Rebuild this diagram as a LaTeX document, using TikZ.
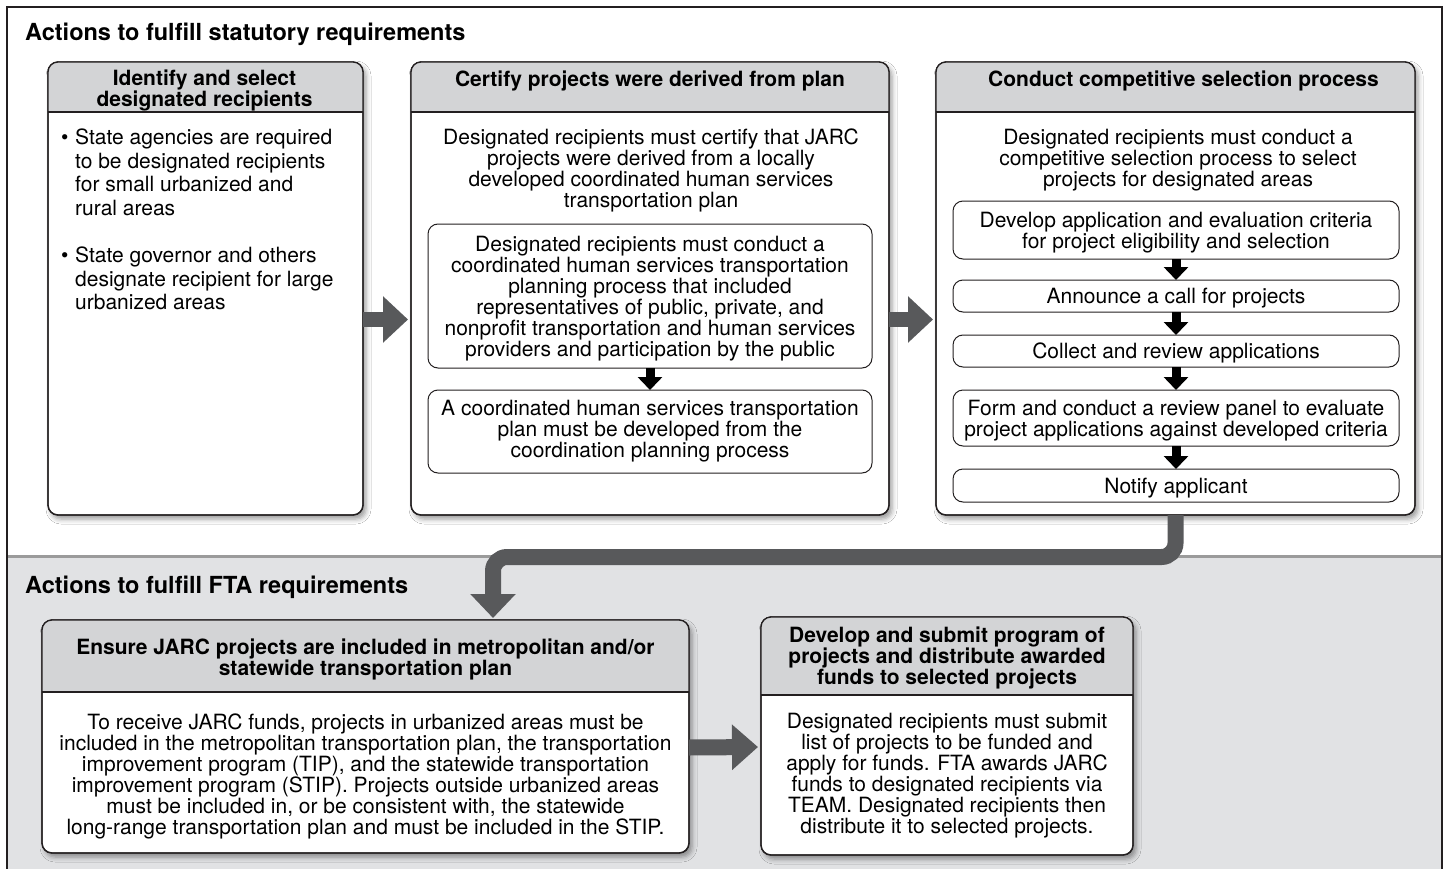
\documentclass[tikz,border=0pt]{standalone}
\usepackage{fontspec}
\setmainfont{TeX Gyre Heros}
\usetikzlibrary{arrows.meta,shadows.blur,calc}
\definecolor{framec}{HTML}{231F20}
\definecolor{hdrc}{HTML}{D3D4D6}
\definecolor{panelc}{HTML}{E1E2E4}
\definecolor{arrowc}{HTML}{58595B}
\definecolor{divc}{HTML}{9B9B9B}
\newcommand\bodyfont{\fontsize{21}{21}\selectfont}
\newcommand\hdrfont{\fontsize{21}{21}\selectfont\bfseries}
\newcommand\ttlfont{\fontsize{23.5}{24}\selectfont\bfseries}
\newcommand\topstrut{\rule{0pt}{20pt}}
\tikzset{
 x=1pt, y=-1pt,
 boxline/.style={draw=framec, line width=1.3pt},
 bigbox/.style={boxline, fill=white, rounded corners=10pt, anchor=north west, inner sep=0pt, outer sep=0pt,
   blur shadow={shadow xshift=3pt, shadow yshift=-4pt, shadow blur radius=5pt, shadow opacity=40}},
 subbox/.style={draw=framec, line width=1pt, fill=white, rounded corners=10pt, anchor=north west, inner sep=0pt, outer sep=0pt, align=center, font=\bodyfont},
 body/.style={align=center, inner sep=0pt, font=\bodyfont},
 hdr/.style={align=center, inner sep=0pt, font=\hdrfont},
 ttl/.style={anchor=base west, inner sep=0pt, font=\ttlfont},
 bigarrow/.style={draw=arrowc, line width=15pt, -{Triangle[width=45pt,length=25pt]}, arrowc},
 smallarrow/.style={draw=black, line width=9pt, -{Triangle[width=24pt,length=13pt]}},
}
\newcommand\hdrband[2]{%
  \fill[hdrc, rounded corners=10pt] ($(#1.north west)+(0,#2)$) -- (#1.north west) -- (#1.north east) -- ($(#1.north east)+(0,#2)$);
  \draw[boxline] ($(#1.north west)+(0,#2)$) -- ($(#1.north east)+(0,#2)$);
  \draw[boxline, rounded corners=10pt] (#1.north west) rectangle (#1.south east);}
\begin{document}
\begin{tikzpicture}
\useasboundingbox (0,0) rectangle (1447,869);
% panels
\fill[white] (0,0) rectangle (1447,869);
\fill[panelc] (7,556) rectangle (1442,880);
\draw[divc, line width=3pt] (7,556) -- (1442,556);
\draw[framec, line width=1.3pt] (7,880) -- (7,7) -- (1442,7) -- (1442,880);

\node[ttl] (t1) at (25,41) {Actions to fulfill statutory requirements};
\node[ttl] (t2) at (25,593) {Actions to fulfill FTA requirements};

% top boxes
\node[bigbox, minimum width=315pt, minimum height=453pt] (A) at (48,62) {};
\node[bigbox, minimum width=478pt, minimum height=453pt] (B) at (411,62) {};
\node[bigbox, minimum width=479pt, minimum height=453pt] (C) at (936,62) {};
\hdrband{A}{50}
\hdrband{B}{50}
\hdrband{C}{50}

\node[hdr] (Ah) at (204.5,90.6) {Identify and select\\designated recipients};
\node[hdr, anchor=base] (Bh) at (650,86.5) {Certify projects were derived from plan};
\node[hdr, anchor=base] (Ch) at (1183.5,86.5) {Conduct competitive selection process};

\node[body, align=left, anchor=west, font=\fontsize{21}{23.6}\selectfont] (At) at (61,219.5)
 {\makebox[14pt][l]{\textbullet}State agencies are required\\
  \hspace*{14pt}to be designated recipients\\
  \hspace*{14pt}for small urbanized and\\
  \hspace*{14pt}rural areas\\[23.6pt]
  \makebox[14pt][l]{\textbullet}State governor and others\\
  \hspace*{14pt}designate recipient for large\\
  \hspace*{14pt}urbanized areas};

\node[body] (Bt) at (651,170.5) {Designated recipients must certify that JARC\\projects were derived from a locally\\developed coordinated human services\\transportation plan};
\node[subbox, minimum width=444pt, minimum height=144pt] (B1) at (428,224) {\topstrut Designated recipients must conduct a\\coordinated human services transportation\\planning process that included\\representatives of public, private, and\\nonprofit transportation and human services\\providers and participation by the public};
\node[subbox, minimum width=444pt, minimum height=83pt] (B2) at (428,390) {A coordinated human services transportation\\plan must be developed from the\\coordination planning process};
\draw[smallarrow] (B1.south) -- (B2.north);

\node[body] (Ct) at (1178,160.5) {Designated recipients must conduct a\\competitive selection process to select\\projects for designated areas};
\node[subbox, minimum width=446pt, minimum height=58pt] (C1) at (953,201) {\topstrut Develop application and evaluation criteria\\for project eligibility and selection};
\node[subbox, minimum width=446pt, minimum height=32pt] (C2) at (953,280) {\topstrut Announce a call for projects};
\node[subbox, minimum width=446pt, minimum height=32pt] (C3) at (953,335) {\topstrut Collect and review applications};
\node[subbox, minimum width=446pt, minimum height=56pt] (C4) at (953,390) {\topstrut Form and conduct a review panel to evaluate\\project applications against developed criteria};
\node[subbox, minimum width=446pt, minimum height=33pt] (C5) at (953,469) {\topstrut Notify applicant};
\draw[smallarrow] (C1.south) -- (C2.north);
\draw[smallarrow] (C2.south) -- (C3.north);
\draw[smallarrow] (C3.south) -- (C4.north);
\draw[smallarrow] (C4.south) -- (C5.north);

\draw[bigarrow, shorten >=3pt] ([yshift=-31pt]A.east) -- ([yshift=-31pt]B.west);
\draw[bigarrow, shorten >=3pt] ([yshift=-31pt]B.east) -- ([yshift=-31pt]C.west);

% bottom boxes
\node[bigbox, minimum width=647pt, minimum height=233pt] (D) at (42,620) {};
\node[bigbox, minimum width=372pt, minimum height=238pt] (E) at (761,617) {};
\hdrband{D}{72}
\hdrband{E}{78}
\node[hdr] (Dh) at (365.5,659) {Ensure JARC projects are included in metropolitan and/or\\statewide transportation plan};
\node[body] (Dt) at (365.5,776) {To receive JARC funds, projects in urbanized areas must be\\included in the metropolitan transportation plan, the transportation\\improvement program (TIP), and the statewide transportation\\improvement program (STIP). Projects outside urbanized areas\\must be included in, or be consistent with, the statewide\\long-range transportation plan and must be included in the STIP.};
\node[hdr] (Eh) at (947,657.5) {Develop and submit program of\\projects and distribute awarded\\funds to selected projects};
\node[body] (Et) at (947,776) {Designated recipients must submit\\list of projects to be funded and\\apply for funds. FTA awards JARC\\funds to designated recipients via\\TEAM. Designated recipients then\\distribute it to selected projects.};
\draw[bigarrow, line width=16pt, -{Triangle[width=44pt,length=26pt]}, shorten >=3pt] ([yshift=-11pt]D.east) -- ([yshift=-11pt]E.west);

% bend arrow from C down to D
\coordinate (bendend) at (493,618);
\draw[draw=arrowc, line width=16pt, rounded corners=14pt, -{Triangle[width=44pt,length=24pt]}]
  (C.south) -- (C.south |- 0,557) -- (bendend |- 0,557) -- (bendend);
\end{tikzpicture}
\end{document}
